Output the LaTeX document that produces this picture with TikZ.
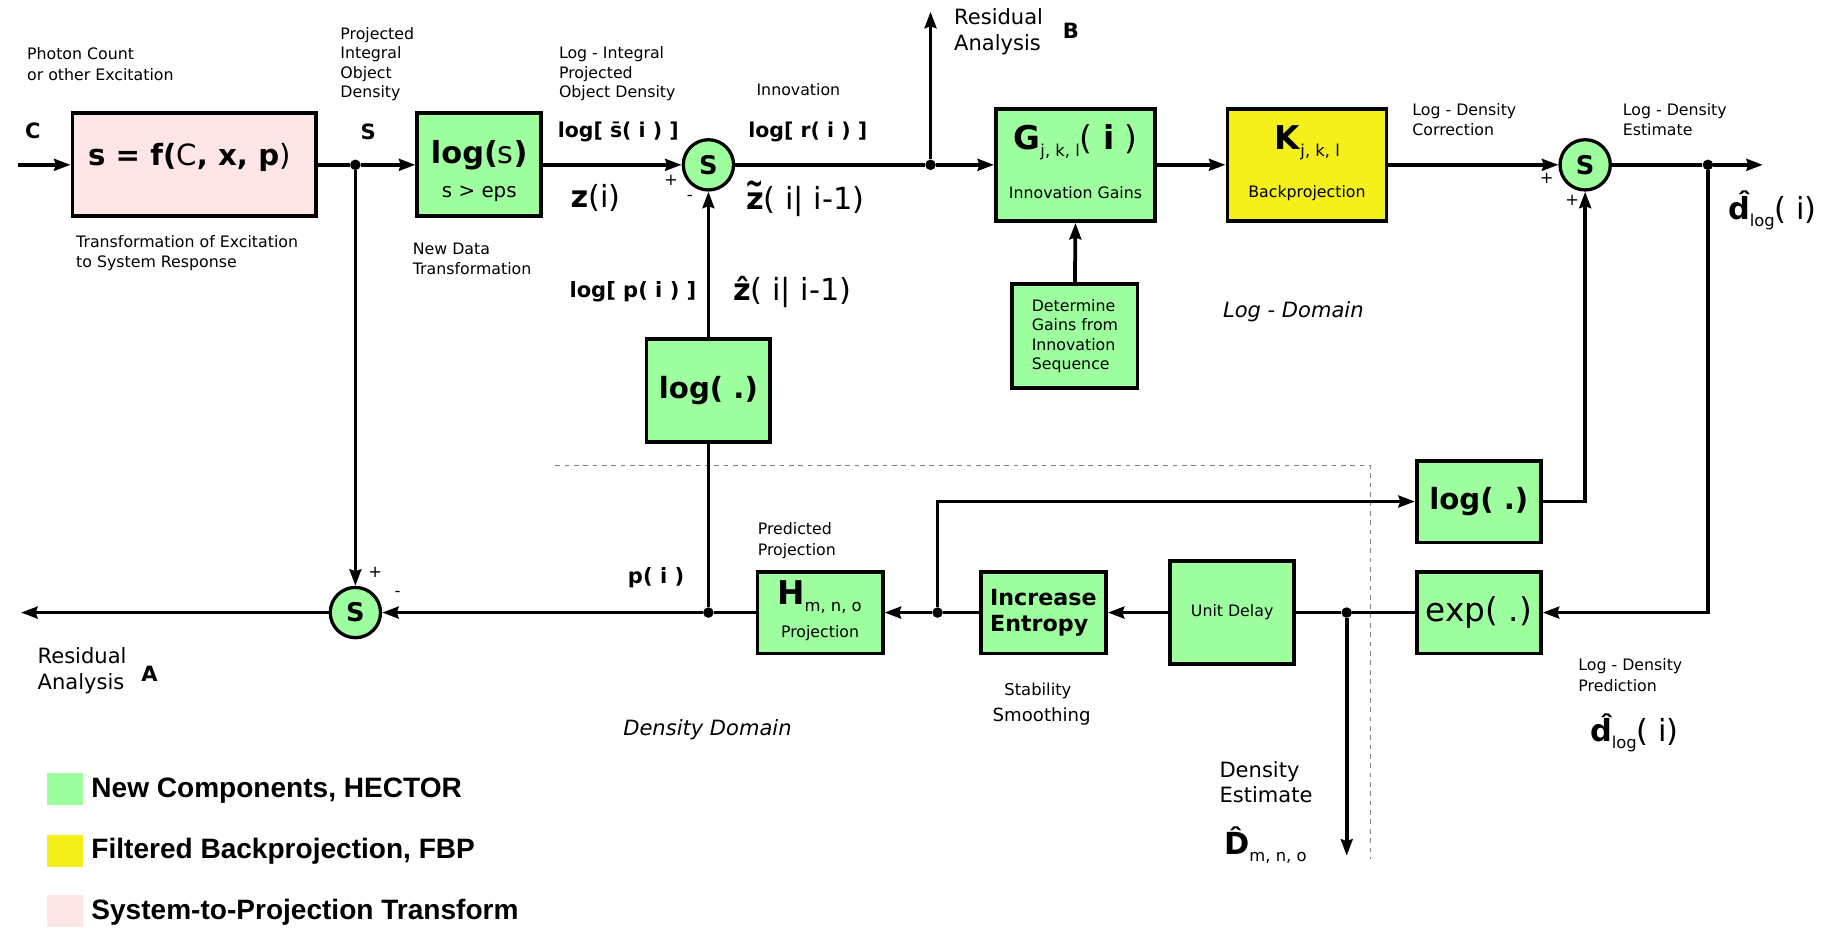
\documentclass[tikz,border=0pt]{standalone}
\usepackage{graphicx}
\usepackage{fontspec}
\setmainfont{DejaVu Sans}[ItalicFont={DejaVu Sans Oblique},BoldItalicFont={DejaVu Sans Bold Oblique}]
\newfontfamily\legfont{Liberation Sans}
\usetikzlibrary{arrows.meta}
\definecolor{hgreen}{RGB}{158,255,158}
\definecolor{hyellow}{RGB}{245,240,25}
\definecolor{hpink}{RGB}{255,230,230}
\newcommand\fsz[2]{\fontsize{#1}{#2}\selectfont}
\newcommand\subt[1]{{\fsz{14}{14}\raisebox{-6pt}{#1}}}
\newcommand\ztilde{\ooalign{\textbf{z}\cr\hidewidth\raisebox{0.47em}{\scalebox{0.72}[1.1]{\textbf{\char"7E}}}\hidewidth\cr}}
\begin{document}
\begin{tikzpicture}[x=1pt,y=-1pt,
  blk/.style={draw,line width=3.3pt,fill=hgreen,inner sep=0pt,align=center},
  sumn/.style={circle,draw,line width=2.8pt,fill=hgreen,minimum size=43pt,inner sep=0pt,font=\fsz{22}{24}\bfseries},
  wire/.style={line width=3.2pt},
  arr/.style={wire,-{Stealth[length=14pt,width=10pt,inset=1.5pt]}},
  jdot/.style={circle,fill=black,inner sep=0pt,minimum size=9pt},
  lbl/.style={anchor=west,inner sep=0pt,align=left,font=\fsz{13.5}{17.5}},
  bl/.style={inner sep=0pt,font=\fsz{18}{22}\bfseries},
  pm/.style={inner sep=0pt,font=\fsz{14}{16}},
  txt/.style={inner sep=0pt,align=center}
]
\useasboundingbox (0,0) rectangle (1568,793);

% domain separator
\draw[gray,line width=1pt,dash pattern=on 4pt off 4pt] (475,398) -- (1172,398) -- (1172,735);

% blocks
\node[blk,fill=hpink,minimum width=208pt,minimum height=88pt] (pink) at (166,141) {};
\node[txt,font=\fsz{25}{30}] (pinkt) at (162,135) {\textbf{s = f(}C\textbf{, x, p})};
\node[blk,minimum width=106pt,minimum height=88pt] (logs) at (410,141) {};
\node[txt,font=\fsz{26}{30}] (logst) at (410,133) {\textbf{log(}s\textbf{)}};
\node[txt,font=\fsz{17}{20}] (logsc) at (410,166) {s > eps};
\node[blk,minimum width=136pt,minimum height=96pt] (G) at (920,141) {};
\node[txt,font=\fsz{28}{32}] (Gt) at (920,122) {\textbf{G}\subt{j, k, l}( \textbf{i} )};
\node[txt,font=\fsz{13.5}{16}] (Gc) at (920,165) {Innovation Gains};
\node[blk,fill=hyellow,minimum width=136pt,minimum height=96pt] (K) at (1118,141) {};
\node[txt,font=\fsz{28}{32}] (Kt) at (1118,122) {\textbf{K}\subt{j, k, l}};
\node[txt,font=\fsz{13.5}{16}] (Kc) at (1118,165) {Backprojection};
\node[blk,minimum width=107pt,minimum height=89pt,font=\fsz{13.5}{16.7},align=left] (det) at (919.5,287.5) {Determine\\Gains from\\Innovation\\Sequence};
\node[blk,minimum width=106pt,minimum height=88pt,font=\fsz{25}{30}\bfseries] (log1) at (606,334) {log( .)};
\node[blk,minimum width=107pt,minimum height=70pt] (H) at (701.5,524) {};
\node[txt,font=\fsz{28}{32}] (Ht) at (701,511) {\textbf{H}\subt{m, n, o}};
\node[txt,font=\fsz{13.5}{16}] (Hc) at (701.5,542) {Projection};
\node[blk,minimum width=107pt,minimum height=70pt,font=\fsz{19}{22}\bfseries,align=left] (IE) at (892.5,524) {Increase\\Entropy};
\node[blk,minimum width=106pt,minimum height=88pt,font=\fsz{13.5}{16}] (UD) at (1054,524) {Unit Delay};
\node[blk,minimum width=106pt,minimum height=70pt,font=\fsz{28}{32}] (exp) at (1265,524) {exp( .)};
\node[blk,minimum width=106pt,minimum height=70pt,font=\fsz{25}{30}\bfseries] (log2) at (1265,429) {log( .)};

% summing junctions
\node[sumn] (s1) at (606,141) {S};
\node[sumn] (s2) at (1356,141) {S};
\node[sumn] (s3) at (304,524) {S};

% junction dots and free ends
\node[jdot] (dS) at (304,141) {};
\node[jdot] (dB) at (796,141) {};
\node[jdot] (dE) at (1461,141) {};
\node[jdot] (dP) at (606,524) {};
\node[jdot] (dH) at (802,524) {};
\node[jdot] (dD) at (1152,524) {};
\coordinate (in) at (15,141);
\coordinate (outB) at (796,10);
\coordinate (outE) at (1508,141);
\coordinate (outA) at (18,524);
\coordinate (outD) at (1152,732);

% connectors
\draw[arr] (in) -- (pink.west);
\draw[wire] (pink.east) -- (dS);
\draw[arr] (dS) -- (logs.west);
\draw[arr] (logs.east) -- (s1.west);
\draw[wire] (s1.east) -- (dB);
\draw[arr] (dB) -- (G.west);
\draw[arr] (dB) -- (outB);
\draw[arr] (G.east) -- (K.west);
\draw[arr] (K.east) -- (s2.west);
\draw[wire] (s2.east) -- (dE);
\draw[arr] (dE) -- (outE);
\draw[arr] (det.north) -- (G.south);
\draw[arr] (log1.north) -- (s1.south);
\draw[wire] (log1.south) -- (dP);
\draw[arr] (dP) -- (s3.east);
\draw[arr] (s3.west) -- (outA);
\draw[arr] (dS) -- (s3.north);
\draw[wire] (H.west) -- (dP);
\draw[arr] (dH) -- (H.east);
\draw[wire] (IE.west) -- (dH);
\draw[arr] (dH) |- (log2.west);
\draw[arr] (UD.west) -- (IE.east);
\draw[wire] (exp.west) -- (dD) -- (UD.east);
\draw[arr] (dD) -- (outD);
\draw[arr] (log2.east) -| (s2.south);
\draw[arr] (dE) |- (exp.east);

% signs
\node[pm] (p1) at (574,154) {+};
\node[pm] (m1) at (590,169) {-};
\node[pm] (p2) at (1323,153) {+};
\node[pm] (p3) at (1345,171) {+};
\node[pm] (p4) at (321,490) {+};
\node[pm] (m4) at (340,508) {-};

% labels
\node[lbl] (tPhoton) at (23,55) {Photon Count\\or other Excitation};
\node[lbl,font=\fsz{13.5}{16.7}] (tProj) at (291,55) {Projected\\Integral\\Object\\Density};
\node[lbl] (tTrans) at (65,216.5) {Transformation of Excitation\\to System Response};
\node[lbl] (tNew) at (353,221.5) {New Data\\Transformation};
\node[lbl,font=\fsz{13.5}{16.5}] (tLogInt) at (478,63) {Log - Integral\\Projected\\Object Density};
\node[lbl] (tInnov) at (647,77) {Innovation};
\node[lbl,font=\fsz{18}{22}] (tResB) at (816,27) {Residual\\Analysis};
\node[bl] (tB) at (916,26) {B};
\node[lbl] (tCorr) at (1208,102.5) {Log - Density\\Correction};
\node[lbl] (tEst) at (1388,102.5) {Log - Density\\Estimate};
\node[lbl,font=\fsz{18}{22}\itshape] (tLogDom) at (1046,267) {Log - Domain};
\node[lbl] (tPred) at (648,462.5) {Predicted\\Projection};
\node[lbl,font=\fsz{18}{22}\bfseries] (tpi) at (537,494) {p( i )};
\node[lbl,font=\fsz{18}{22}\bfseries] (tlogp) at (487,250) {log[ p( i ) ]};
\node[lbl,font=\fsz{26}{30}] (tzhat) at (627,250) {\textbf{ẑ}( i| i-1)};
\node[lbl,font=\fsz{14}{17}] (tStab) at (859,591) {Stability};
\node[lbl,font=\fsz{15.5}{18}] (tSmooth) at (849,613) {Smoothing};
\node[lbl] (tLDP) at (1350,577.5) {Log - Density\\Prediction};
\node[lbl,font=\fsz{26}{30}] (tdpred) at (1360,627) {\textbf{d̂}\subt{log}( i)};
\node[lbl,font=\fsz{18}{22}] (tDE) at (1043,669) {Density\\Estimate};
\node[lbl,font=\fsz{26}{30}] (tDhat) at (1047,723) {\textbf{D̂}\subt{m, n, o}};
\node[lbl,font=\fsz{18}{22}] (tResA) at (32,574) {Residual\\Analysis};
\node[bl] (tA) at (128,576) {A};
\node[lbl,font=\fsz{18}{22}\itshape] (tDenDom) at (533,624) {Density Domain};
\node[bl] (tC) at (28,112) {C};
\node[bl] (tS) at (315,113) {S};
\node[lbl,font=\fsz{17.5}{22}\bfseries] (tlogs) at (477,113) {log[ s̄( i ) ]};
\node[lbl,font=\fsz{17.5}{22}\bfseries] (tlogr) at (640,113) {log[ r( i ) ]};
\node[lbl,font=\fsz{26}{30}] (tz) at (488,169) {\textbf{z}(i)};
\node[lbl,font=\fsz{26}{30}] (tztil) at (638,172) {\ztilde( i| i-1)};
\node[lbl,font=\fsz{26}{30}] (tdest) at (1478,180) {\textbf{d̂}\subt{log}( i)};

% legend
\fill[hgreen] (40,661) rectangle (71,689);
\fill[hyellow] (40,714) rectangle (71,742);
\fill[hpink] (40,766) rectangle (71,793);
\node[lbl,font=\legfont\bfseries\fsz{24}{28}] (lg1) at (78,676) {New Components, HECTOR};
\node[lbl,font=\legfont\bfseries\fsz{24}{28}] (lg2) at (78,728) {Filtered Backprojection, FBP};
\node[lbl,font=\legfont\bfseries\fsz{24}{28}] (lg3) at (78,780) {System-to-Projection Transform};
\end{tikzpicture}
\end{document}
